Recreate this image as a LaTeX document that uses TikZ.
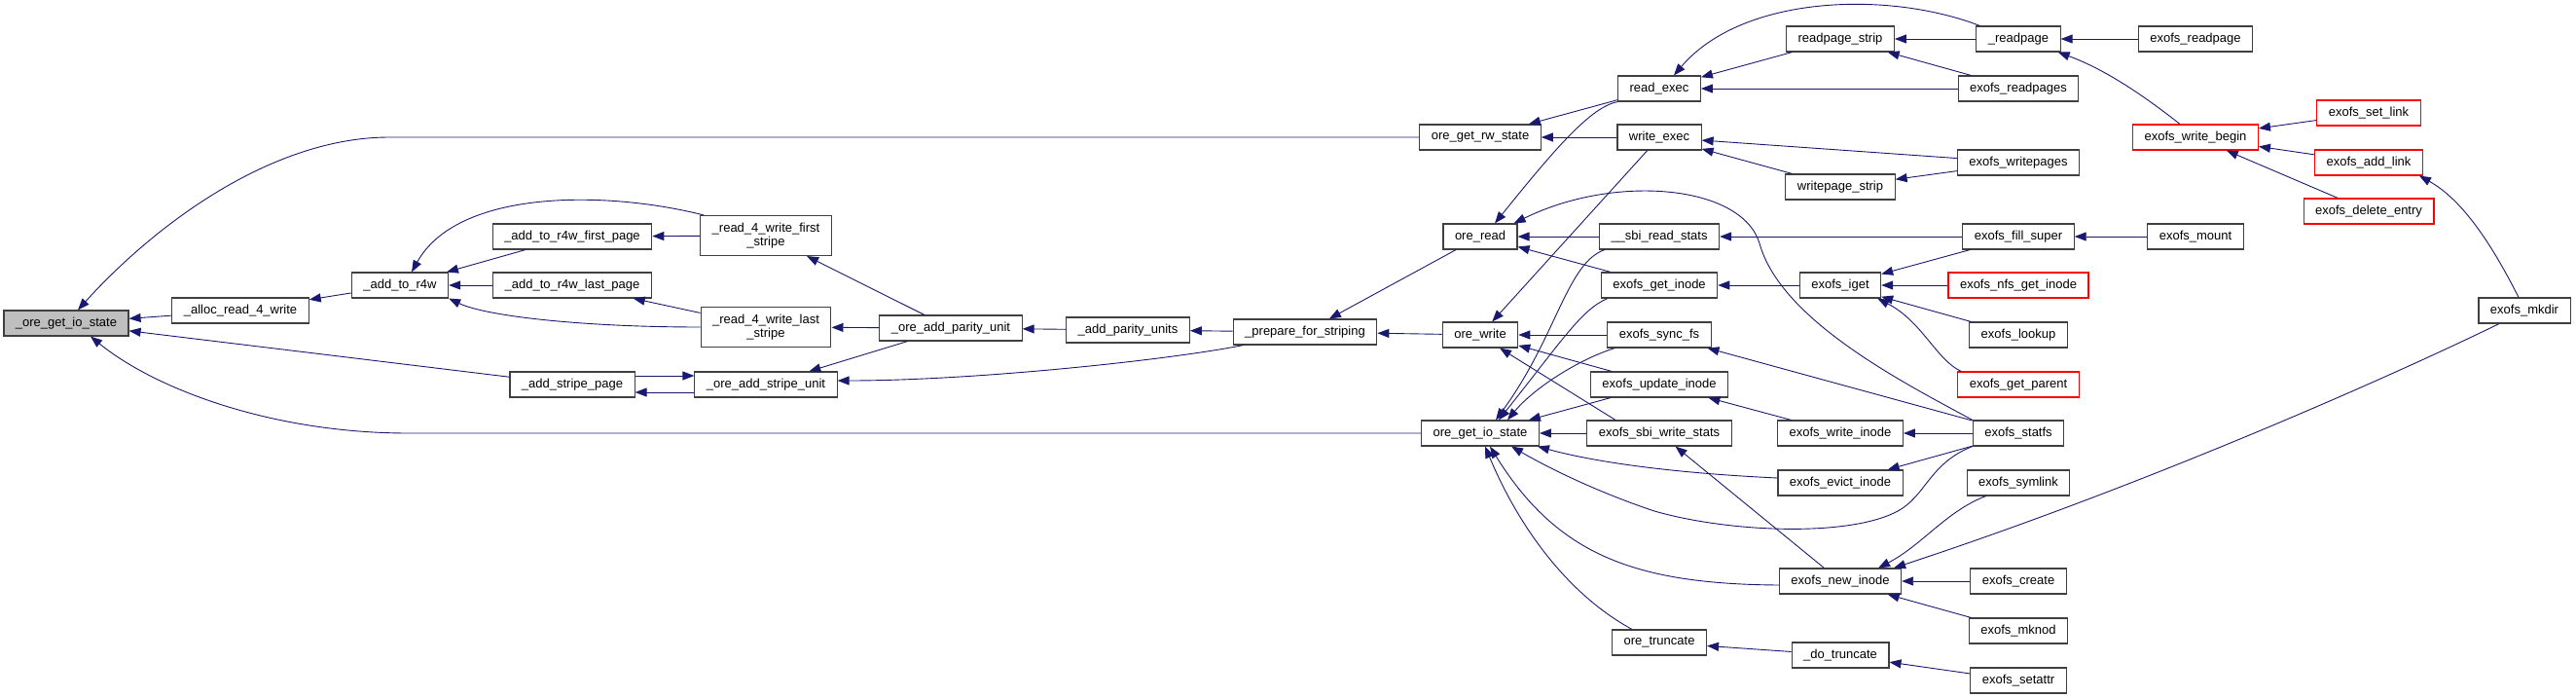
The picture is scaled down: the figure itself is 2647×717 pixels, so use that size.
\documentclass[tikz,border=0pt]{standalone}
\usepackage{fontspec}
\setmainfont{Liberation Sans}
\usetikzlibrary{arrows.meta}
\definecolor{dxblue}{RGB}{25,25,112}
\definecolor{dxedge}{RGB}{64,64,64}
\definecolor{dxgray}{RGB}{191,191,191}
\definecolor{dxred}{RGB}{255,0,0}

\begin{document}
\begin{tikzpicture}[
  x=1pt, y=-1pt,
  box/.style={draw=dxedge, line width=1.1pt, fill=white, align=center, inner xsep=12pt,
              inner ysep=2pt, minimum height=26pt, font=\fontsize{13}{14}\selectfont},
  root/.style={box, fill=dxgray},
  hot/.style={box, draw=dxred},
  twoline/.style={box, minimum height=41pt},
  line/.style={-{Triangle[length=12pt,width=9pt]}, draw=dxblue, line width=0.9pt},
]
\useasboundingbox (0,0) rectangle (2647,717);

\node[root] (goios) at (68,332) {\_ore\_get\_io\_state};
\node[box] (alloc) at (247,319) {\_alloc\_read\_4\_write};
\node[box] (addr4w) at (411,293) {\_add\_to\_r4w};
\node[box] (firstpg) at (588,243) {\_add\_to\_r4w\_first\_page};
\node[box] (lastpg) at (588,293) {\_add\_to\_r4w\_last\_page};
\node[box] (stripepg) at (588,395) {\_add\_stripe\_page};
\node[twoline] (r4wfirst) at (787,242) {\_read\_4\_write\_first\\\_stripe};
\node[twoline] (r4wlast) at (787,336) {\_read\_4\_write\_last\\\_stripe};
\node[box] (stripeunit) at (787,395) {\_ore\_add\_stripe\_unit};
\node[box] (parityunit) at (977,337) {\_ore\_add\_parity\_unit};
\node[box] (parityunits) at (1159,339) {\_add\_parity\_units};
\node[box] (prepare) at (1341,341) {\_prepare\_for\_striping};

\node[box] (getrw) at (1521,141) {ore\_get\_rw\_state};
\node[box] (oreread) at (1521,243) {ore\_read};
\node[box] (orewrite) at (1521,344) {ore\_write};
\node[box] (getio) at (1521,445) {ore\_get\_io\_state};

\node[box] (readexec) at (1705,91) {read\_exec};
\node[box] (writeexec) at (1705,141) {write\_exec};
\node[box] (sbiread) at (1705,243) {\_\_sbi\_read\_stats};
\node[box] (getinode) at (1705,293) {exofs\_get\_inode};
\node[box] (syncfs) at (1705,344) {exofs\_sync\_fs};
\node[box] (updinode) at (1705,395) {exofs\_update\_inode};
\node[box] (sbiwrite) at (1705,445) {exofs\_sbi\_write\_stats};
\node[box] (truncate) at (1705,660) {ore\_truncate};

\node[box] (rpstrip) at (1891,40) {readpage\_strip};
\node[box] (wpstrip) at (1891,192) {writepage\_strip};
\node[box] (iget) at (1891,293) {exofs\_iget};
\node[box] (wrinode) at (1891,445) {exofs\_write\_inode};
\node[box] (evict) at (1891,496) {exofs\_evict\_inode};
\node[box] (newinode) at (1891,597) {exofs\_new\_inode};
\node[box] (dotrunc) at (1891,673) {\_do\_truncate};

\node[box] (readpage) at (2074,40) {\_readpage};
\node[box] (readpages) at (2074,91) {exofs\_readpages};
\node[box] (writepages) at (2074,167) {exofs\_writepages};
\node[box] (fillsuper) at (2074,243) {exofs\_fill\_super};
\node[hot] (nfsinode) at (2074,293) {exofs\_nfs\_get\_inode};
\node[box] (lookup) at (2074,344) {exofs\_lookup};
\node[hot] (getparent) at (2074,395) {exofs\_get\_parent};
\node[box] (statfs) at (2074,445) {exofs\_statfs};
\node[box] (symlink) at (2074,496) {exofs\_symlink};
\node[box] (create) at (2074,597) {exofs\_create};
\node[box] (mknod) at (2074,648) {exofs\_mknod};
\node[box] (setattr) at (2074,699) {exofs\_setattr};

\node[box] (exreadpage) at (2256,40) {exofs\_readpage};
\node[hot] (wbegin) at (2256,141) {exofs\_write\_begin};
\node[box] (mount) at (2256,243) {exofs\_mount};
\node[hot] (setlink) at (2434,116) {exofs\_set\_link};
\node[hot] (addlink) at (2434,167) {exofs\_add\_link};
\node[hot] (delentry) at (2434,217) {exofs\_delete\_entry};
\node[box] (mkdir) at (2594,319) {exofs\_mkdir};

\draw[line] (alloc) -- (goios);
\draw[line] (getrw) -- (400,141) .. controls (280,141) and (160,230) .. ([xshift=12pt]goios.north);
\draw[line] (stripepg) -- (goios);
\draw[line] (getio) -- (420,445) .. controls (280,445) and (160,400) .. ([xshift=25pt]goios.south);
\draw[line] (addr4w) -- (alloc);
\draw[line] (firstpg) -- (addr4w);
\draw[line] (lastpg) -- (addr4w);
\draw[line] ([xshift=4pt]r4wfirst.north west) .. controls (620,195) and (470,195) .. ([xshift=12pt]addr4w.north);
\draw[line] (r4wlast.west) .. controls (600,336) and (500,325) .. (addr4w.south east);
\draw[line] (r4wfirst) -- (firstpg);
\draw[line] (r4wlast) -- (lastpg);
\draw[line] (parityunit) -- (r4wfirst);
\draw[line] (parityunit) -- (r4wlast);
\draw[line] ([yshift=9pt]stripepg.east) -- ([yshift=9pt]stripeunit.west);
\draw[line] ([yshift=-8pt]stripeunit.west) -- ([yshift=-8pt]stripepg.east);
\draw[line] (parityunit) -- (stripeunit);
\draw[line] ([xshift=11pt]prepare.south west) .. controls (1200,370) and (1000,391) .. ([yshift=4pt]stripeunit.east);
\draw[line] (parityunits) -- (parityunit);
\draw[line] (prepare) -- (parityunits);
\draw[line] (oreread) -- (prepare);
\draw[line] (orewrite) -- (prepare);

\draw[line] (readexec) -- (getrw);
\draw[line] (writeexec) -- (getrw);
\draw[line] (rpstrip) -- (readexec);
\draw[line] ([xshift=4pt]readpage.north west) .. controls (1940,-10) and (1790,-5) .. ([xshift=15pt]readexec.north);
\draw[line] (readpages) -- (readexec);
\draw[line] (readpage) -- (rpstrip);
\draw[line] (readpages) -- (rpstrip);
\draw[line] (exreadpage) -- (readpage);
\draw[line] ([xshift=-16pt]wbegin.north) .. controls (2205,100) and (2165,72) .. ([xshift=-3pt]readpage.south east);
\draw[line] (setlink) -- (wbegin);
\draw[line] (addlink) -- (wbegin);
\draw[line] (delentry) -- (wbegin);
\draw[line] ([xshift=-6pt]mkdir.north) .. controls (2560,250) and (2530,205) .. ([xshift=-4pt]addlink.south east);
\draw[line] (writepages) -- (writeexec);
\draw[line] (wpstrip) -- (writeexec);
\draw[line] (writepages) -- (wpstrip);

\draw[line] (readexec.south west) .. controls (1635,110) and (1600,150) .. ([xshift=15pt]oreread.north);
\draw[line] (statfs.north west) .. controls (1960,395) and (1830,330) .. (1808,250)
  .. controls (1790,190) and (1660,178) .. ([xshift=-4pt]oreread.north east);
\draw[line] (sbiread) -- (oreread);
\draw[line] (getinode) -- (oreread);
\draw[line] (writeexec) -- (orewrite);
\draw[line] (syncfs) -- (orewrite);
\draw[line] (updinode) -- (orewrite);
\draw[line] ([xshift=-45pt]sbiwrite.north) -- ([xshift=20pt]orewrite.south);

\draw[line] ([xshift=6pt]sbiread.south west) .. controls (1610,270) and (1600,345) .. ([xshift=16pt]getio.north);
\draw[line] ([xshift=7pt]getinode.south west) .. controls (1625,318) and (1605,350) .. ([xshift=19pt]getio.north);
\draw[line] ([xshift=8pt]syncfs.south west) .. controls (1620,370) and (1575,400) .. ([xshift=28pt]getio.north);
\draw[line] (updinode) -- (getio);
\draw[line] (sbiwrite) -- (getio);
\draw[line] ([yshift=5pt]evict.west) .. controls (1720,486) and (1640,475) .. ([xshift=-2pt]getio.south east);
\draw[line] (statfs.south west) .. controls (1985,475) and (1980,505) .. (1955,522)
  .. controls (1910,552) and (1780,548) .. (1700,525)
  .. controls (1640,505) and (1590,480) .. ([xshift=32pt]getio.south);
\draw[line] ([yshift=-4pt]newinode.west) .. controls (1680,600) and (1600,570) .. ([xshift=10pt]getio.south);
\draw[line] ([xshift=-28pt]truncate.north) .. controls (1610,610) and (1560,540) .. ([xshift=5pt]getio.south);

\draw[line] (newinode) -- (sbiwrite);
\draw[line] (wrinode) -- (updinode);
\draw[line] (statfs) -- (wrinode);
\draw[line] (statfs) -- (evict);
\draw[line] (statfs) -- (syncfs);
\draw[line] (iget) -- (getinode);
\draw[line] (fillsuper) -- (sbiread);
\draw[line] (fillsuper) -- (iget);
\draw[line] (nfsinode) -- (iget);
\draw[line] (lookup) -- (iget);
\draw[line] ([xshift=4pt]getparent.north west) .. controls (1990,370) and (1975,330) .. ([xshift=-4pt]iget.south east);
\draw[line] (mount) -- (fillsuper);
\draw[line] ([xshift=20pt]symlink.south west) .. controls (2000,525) and (1975,560) .. ([xshift=39pt]newinode.north);
\draw[line] ([xshift=-26pt]mkdir.south) .. controls (2450,390) and (2200,500) .. ([xshift=55pt]newinode.north);
\draw[line] (create) -- (newinode);
\draw[line] (mknod) -- (newinode);
\draw[line] (dotrunc) -- (truncate);
\draw[line] (setattr) -- (dotrunc);
\end{tikzpicture}
\end{document}
